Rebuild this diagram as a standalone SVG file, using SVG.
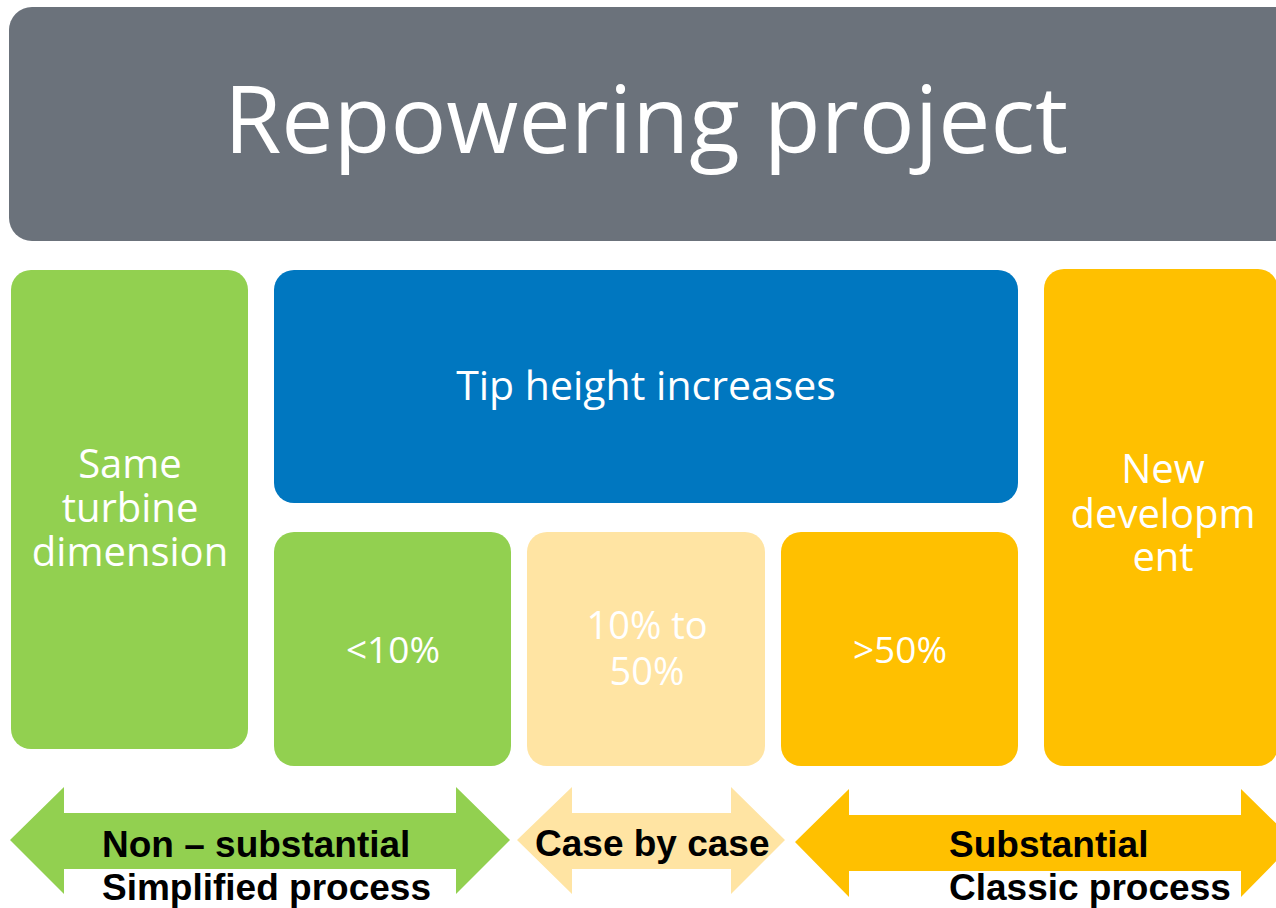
<svg xmlns="http://www.w3.org/2000/svg" width="1276" height="908" viewBox="0 0 1276 908">
<style>
.box{stroke:none}
.t{font-family:"Open Sans","Noto Sans",sans-serif;fill:#ffffff;text-anchor:middle}
.b{font-family:"Liberation Sans",Arial,sans-serif;font-weight:bold;font-size:37px;fill:#000000}
</style>
<rect width="1276" height="908" fill="#ffffff"/>
<g id="title">
<rect class="box" x="9" y="7" width="1290" height="234" rx="23" fill="#6b727b"/>
<text class="t" x="646" y="153" font-size="93">Repowering project</text>
</g>
<g id="same">
<rect class="box" x="11" y="270" width="237" height="479" rx="20" fill="#92d050"/>
<text class="t" font-size="40"><tspan x="130" y="478">Same</tspan><tspan x="130" y="522">turbine</tspan><tspan x="130" y="566">dimension</tspan></text>
</g>
<g id="tip">
<rect class="box" x="274" y="270" width="744" height="233" rx="20" fill="#0077c0"/>
<text class="t" x="646" y="400" font-size="41">Tip height increases</text>
</g>
<g id="lt10">
<rect class="box" x="274" y="532" width="237" height="234" rx="20" fill="#92d050"/>
<text class="t" x="393" y="663" font-size="37">&lt;10%</text>
</g>
<g id="mid">
<rect class="box" x="527" y="532" width="238" height="234" rx="20" fill="#ffe4a3"/>
<text class="t" font-size="38"><tspan x="647" y="639">10% to</tspan><tspan x="647" y="685">50%</tspan></text>
</g>
<g id="gt50">
<rect class="box" x="781" y="532" width="237" height="234" rx="20" fill="#ffc000"/>
<text class="t" x="900" y="663" font-size="37">&gt;50%</text>
</g>
<g id="newdev">
<rect class="box" x="1044" y="269" width="234" height="497" rx="20" fill="#ffc000"/>
<text class="t" font-size="40"><tspan x="1163" y="483">New</tspan><tspan x="1163" y="528">developm</tspan><tspan x="1163" y="571">ent</tspan></text>
</g>
<g id="connectors">
<polygon points="10,840 64,787 64,813 456,813 456,787 510,840 456,894 456,869 64,869 64,894" fill="#92d050"/>
<polygon points="517,840 572,787 572,813 731,813 731,787 785,840 731,894 731,869 572,869 572,894" fill="#ffe4a3"/>
<polygon points="795,842 849,789 849,815 1241,815 1241,789 1295,842 1241,897 1241,871 849,871 849,897" fill="#ffc000"/>
</g>
<g id="labels">
<text class="b" x="102" y="857">Non – substantial</text>
<text class="b" x="102" y="900">Simplified process</text>
<text class="b" x="535" y="856">Case by case</text>
<text class="b" x="949" y="857">Substantial</text>
<text class="b" x="949" y="900">Classic process</text>
</g>
</svg>
